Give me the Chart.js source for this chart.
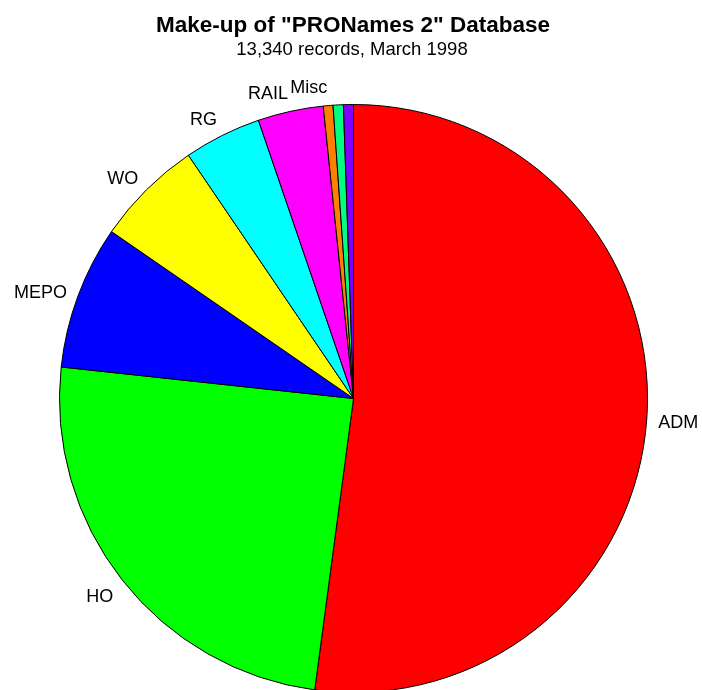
<!DOCTYPE html>
<html><head><meta charset="utf-8">
<script src="https://cdn.jsdelivr.net/npm/chart.js@4"></script>
<style>
html,body{margin:0;padding:0;background:#fff;overflow:hidden;width:702px;height:690px}
canvas{display:block}
</style></head>
<body><canvas id="c" width="702" height="700"></canvas>
<script>
const categories = ['ADM', 'HO', 'MEPO', 'WO', 'RG', 'RAIL', 'Misc', '', ''];
const records = [6951, 3282, 1054, 787, 567, 480, 71, 75, 73];
const sliceColors = ['#ff0000', '#00ff00', '#0000ff', '#ffff00', '#00ffff', '#ff00ff', '#ff8000', '#00ff80', '#8000ff'];
const titleText = 'Make-up of "PRONames 2" Database';
const subtitleText = '13,340 records, March 1998';

const FONT = '"Liberation Sans", Arial, Helvetica, sans-serif';

const headerPlugin = {
  id: 'header',
  afterDraw(chart) {
    const ctx = chart.ctx;
    ctx.save();
    ctx.fillStyle = '#000';
    ctx.textAlign = 'center';
    ctx.textBaseline = 'alphabetic';
    ctx.font = 'bold 22.5px ' + FONT;
    ctx.fillText(titleText, 353, 32);
    ctx.font = '18.5px ' + FONT;
    ctx.fillText(subtitleText, 352, 55);
    ctx.restore();
  }
};

const sliceLabelPlugin = {
  id: 'sliceLabels',
  afterDatasetsDraw(chart) {
    const ctx = chart.ctx;
    const meta = chart.getDatasetMeta(0);
    const labels = chart.data.labels;
    ctx.save();
    ctx.fillStyle = '#000';
    ctx.font = '18px ' + FONT;
    ctx.textBaseline = 'middle';
    meta.data.forEach((arc, i) => {
      const text = labels[i];
      if (!text) return;
      const p = arc.getProps(['x', 'y', 'startAngle', 'endAngle', 'outerRadius'], true);
      const mid = (p.startAngle + p.endAngle) / 2;
      const r = p.outerRadius + 11.5;
      const ax = p.x + Math.cos(mid) * r;
      const ay = p.y + Math.sin(mid) * r;
      ctx.textAlign = Math.cos(mid) >= 0 ? 'left' : 'right';
      ctx.fillText(text, ax, ay + Math.sin(mid) * 10 + 4);
    });
    ctx.restore();
  }
};

new Chart(document.getElementById('c'), {
  type: 'pie',
  data: {
    labels: categories,
    datasets: [{
      data: records,
      backgroundColor: sliceColors,
      borderColor: '#000000',
      borderWidth: 1
    }]
  },
  options: {
    responsive: false,
    animation: false,
    devicePixelRatio: 1,
    layout: { padding: { left: 59, right: 54, top: 104, bottom: 7 } },
    plugins: {
      legend: { display: false },
      tooltip: { enabled: false },
      title: { display: false }
    }
  },
  plugins: [headerPlugin, sliceLabelPlugin]
});
</script>
</body></html>
